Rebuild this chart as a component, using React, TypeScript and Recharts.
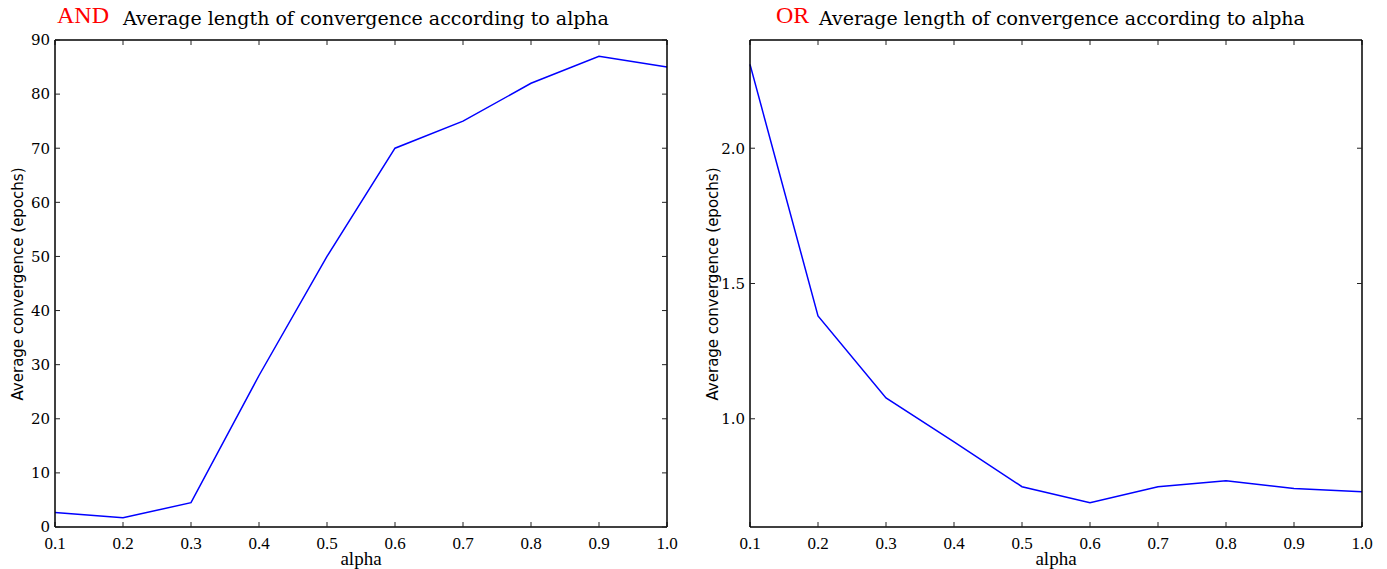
import { LineChart, Line, XAxis, YAxis } from 'recharts';

const alphas = [0.1, 0.2, 0.3, 0.4, 0.5, 0.6, 0.7, 0.8, 0.9, 1.0];
const andConvergence = [2.7, 1.7, 4.5, 28, 50, 70, 75, 82, 87, 85];
const orConvergence = [2.31, 1.38, 1.077, 0.915, 0.749, 0.69, 0.749, 0.771, 0.742, 0.73];

const andTicks = [0, 10, 20, 30, 40, 50, 60, 70, 80, 90];
const orTicks = [1.0, 1.5, 2.0];

const serif = '"DejaVu Serif", serif';
const times = '"Liberation Serif", "Times New Roman", serif';

interface PanelProps {
  left: number;
  tag: string;
  tagX: number;
  titleX: number;
  values: number[];
  yDomain: [number, number];
  yTicks: number[];
  yFormat: (v: number) => string;
}

function Panel({ left, tag, tagX, titleX, values, yDomain, yTicks, yFormat }: PanelProps) {
  const data = alphas.map((a, i) => ({ alpha: a, value: values[i] }));
  const width = 690;
  const axisW = 55;
  const plotLeft = left + axisW;
  const plotRight = left + width - 23;
  const mid = (plotLeft + plotRight) / 2;
  const frame = { stroke: '#000', strokeWidth: 1.5 };
  const tickLine = { stroke: '#222', strokeWidth: 1 };
  const blank = () => '';

  return (
    <>
      <div style={{ position: 'absolute', left: tagX, top: 3, fontFamily: times, fontSize: 24, lineHeight: 1, color: '#ff0000' }}>
        {tag}
      </div>
      <div style={{ position: 'absolute', left: titleX, top: 9, fontFamily: serif, fontSize: 19, lineHeight: 1, color: '#000', whiteSpace: 'nowrap' }}>
        Average length of convergence according to alpha
      </div>
      <div style={{ position: 'absolute', left: left + 18 - 150, top: 283.5 - 8, width: 300, textAlign: 'center', transform: 'rotate(-90deg)', fontFamily: '"DejaVu Sans", sans-serif', fontSize: 15, lineHeight: '16px', color: '#000', whiteSpace: 'nowrap' }}>
        Average convergence (epochs)
      </div>
      <div style={{ position: 'absolute', left: mid - 50, top: 549, width: 100, textAlign: 'center', fontFamily: times, fontSize: 19, lineHeight: 1, color: '#000' }}>
        alpha
      </div>
      <div style={{ position: 'absolute', left, top: 0 }}>
        <LineChart width={width} height={569} data={data} margin={{ top: 40, right: 23, bottom: 0, left: 0 }}>
          {/* labelled axes, bottom and left */}
          <XAxis
            dataKey="alpha"
            type="number"
            domain={[0.1, 1.0]}
            ticks={alphas}
            tickFormatter={(v: number) => v.toFixed(1)}
            height={42}
            axisLine={false}
            tickLine={false}
            tickSize={0}
            tickMargin={10}
            tick={{ fill: '#000', fontFamily: times, fontSize: 17 }}
          />
          <YAxis
            type="number"
            domain={yDomain}
            ticks={yTicks}
            tickFormatter={yFormat}
            width={axisW}
            axisLine={false}
            tickLine={false}
            tickSize={0}
            tickMargin={5}
            allowDataOverflow
            tick={{ fill: '#000', fontFamily: serif, fontSize: 15 }}
          />
          {/* frame with inward ticks on all four sides */}
          <XAxis
            xAxisId="bm"
            orientation="bottom"
            mirror
            dataKey="alpha"
            type="number"
            domain={[0.1, 1.0]}
            ticks={alphas}
            tickFormatter={blank}
            height={10}
            axisLine={frame}
            tickLine={tickLine}
            tickSize={5}
          />
          <XAxis
            xAxisId="top"
            orientation="top"
            mirror
            dataKey="alpha"
            type="number"
            domain={[0.1, 1.0]}
            ticks={alphas}
            tickFormatter={blank}
            height={10}
            axisLine={frame}
            tickLine={tickLine}
            tickSize={5}
          />
          <YAxis
            yAxisId="lm"
            orientation="left"
            mirror
            type="number"
            domain={yDomain}
            ticks={yTicks}
            tickFormatter={blank}
            width={10}
            axisLine={frame}
            tickLine={tickLine}
            tickSize={5}
            allowDataOverflow
          />
          <YAxis
            yAxisId="right"
            orientation="right"
            mirror
            type="number"
            domain={yDomain}
            ticks={yTicks}
            tickFormatter={blank}
            width={10}
            axisLine={frame}
            tickLine={tickLine}
            tickSize={5}
            allowDataOverflow
          />
          <Line
            type="linear"
            dataKey="value"
            stroke="#0000ff"
            strokeWidth={1.5}
            dot={false}
            isAnimationActive={false}
          />
        </LineChart>
      </div>
    </>
  );
}

export default function App() {
  return (
    <div style={{ position: 'absolute', left: 0, top: 0, width: 1387, height: 569, background: '#fff', overflow: 'hidden' }}>
      <Panel
        left={0}
        tag="AND"
        tagX={57}
        titleX={123}
        values={andConvergence}
        yDomain={[0, 90]}
        yTicks={andTicks}
        yFormat={(v) => String(v)}
      />
      <Panel
        left={695}
        tag="OR"
        tagX={776}
        titleX={819}
        values={orConvergence}
        yDomain={[0.6, 2.4]}
        yTicks={orTicks}
        yFormat={(v) => v.toFixed(1)}
      />
    </div>
  );
}
